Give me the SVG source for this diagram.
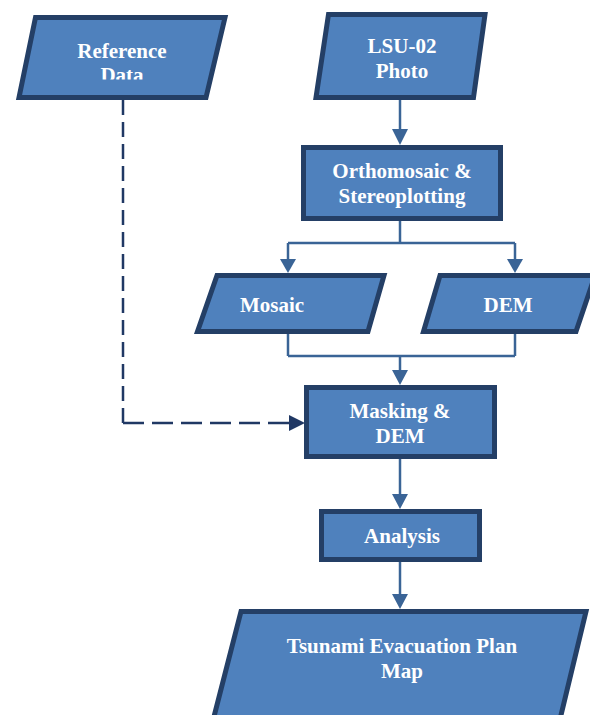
<svg xmlns="http://www.w3.org/2000/svg" width="590" height="715" viewBox="0 0 590 715">
<style>
.node{fill:#4F81BD;stroke:#243F66;stroke-width:5;stroke-linejoin:miter}
.lbl{font-family:"Liberation Serif","Times New Roman",serif;font-weight:bold;font-size:21px;fill:#FFFFFF;text-anchor:middle}
.ln{stroke:#3A6496;stroke-width:2.5;fill:none}
.ah{fill:#3A6496}
.dash{stroke:#203864;stroke-width:2.5;fill:none}
.dah{fill:#203864}
</style>
<defs>
<clipPath id="clipRef"><rect x="0" y="0" width="300" height="79.5"/></clipPath>
</defs>
<rect width="590" height="715" fill="#FFFFFF"/>
<g id="connectors">
<line class="ln" x1="400" y1="100" x2="400" y2="131"/>
<polygon class="ah" points="392,129 408,129 400,145"/>
<line class="ln" x1="400" y1="221" x2="400" y2="243"/>
<line class="ln" x1="288" y1="243" x2="515" y2="243"/>
<line class="ln" x1="288" y1="243" x2="288" y2="261"/>
<polygon class="ah" points="280,259 296,259 288,273"/>
<line class="ln" x1="515" y1="243" x2="515" y2="261"/>
<polygon class="ah" points="507,259 523,259 515,273"/>
<line class="ln" x1="288" y1="334" x2="288" y2="356"/>
<line class="ln" x1="515" y1="334" x2="515" y2="356"/>
<line class="ln" x1="288" y1="356" x2="515" y2="356"/>
<line class="ln" x1="400" y1="356" x2="400" y2="372"/>
<polygon class="ah" points="392,370 408,370 400,385"/>
<line class="ln" x1="400" y1="459" x2="400" y2="496"/>
<polygon class="ah" points="392,494 408,494 400,509"/>
<line class="ln" x1="400" y1="562" x2="400" y2="596"/>
<polygon class="ah" points="392,594 408,594 400,609"/>
<line class="dash" x1="123" y1="100" x2="123" y2="423" stroke-dasharray="15 7"/>
<line class="dash" x1="123" y1="423" x2="290" y2="423" stroke-dasharray="21 8"/>
<polygon class="dah" points="289,415 289,431 305,423"/>
</g>
<g id="refdata">
<polygon class="node" points="35.5,17.5 225,17.5 206,97.5 19,97.5"/>
<g clip-path="url(#clipRef)">
<text class="lbl" x="122" y="58">Reference</text>
<text class="lbl" x="122" y="82">Data</text>
</g>
</g>
<g id="lsu02">
<polygon class="node" points="328.5,14.5 485,14.5 473.5,97.5 316,97.5"/>
<text class="lbl" x="402" y="53">LSU-02</text>
<text class="lbl" x="402" y="78">Photo</text>
</g>
<g id="ortho">
<rect class="node" x="303.5" y="147.5" width="197" height="71"/>
<text class="lbl" x="402" y="178">Orthomosaic &amp;</text>
<text class="lbl" x="402" y="203">Stereoplotting</text>
</g>
<g id="mosaic">
<polygon class="node" points="217,275.5 384,275.5 368,331.5 197.5,331.5"/>
<text class="lbl" x="272" y="312">Mosaic</text>
</g>
<g id="dem">
<polygon class="node" points="440,275.5 595,275.5 576,331.5 423.5,331.5"/>
<text class="lbl" x="508" y="312">DEM</text>
</g>
<g id="masking">
<rect class="node" x="306.5" y="387.5" width="188" height="69"/>
<text class="lbl" x="400" y="418">Masking &amp;</text>
<text class="lbl" x="400" y="443">DEM</text>
</g>
<g id="analysis">
<rect class="node" x="321.5" y="511.5" width="158" height="48"/>
<text class="lbl" x="402" y="543">Analysis</text>
</g>
<g id="tsunami">
<polygon class="node" points="241,611.5 586,611.5 555,740 208,740"/>
<text class="lbl" x="402" y="653">Tsunami Evacuation Plan</text>
<text class="lbl" x="402" y="678">Map</text>
</g>
</svg>
